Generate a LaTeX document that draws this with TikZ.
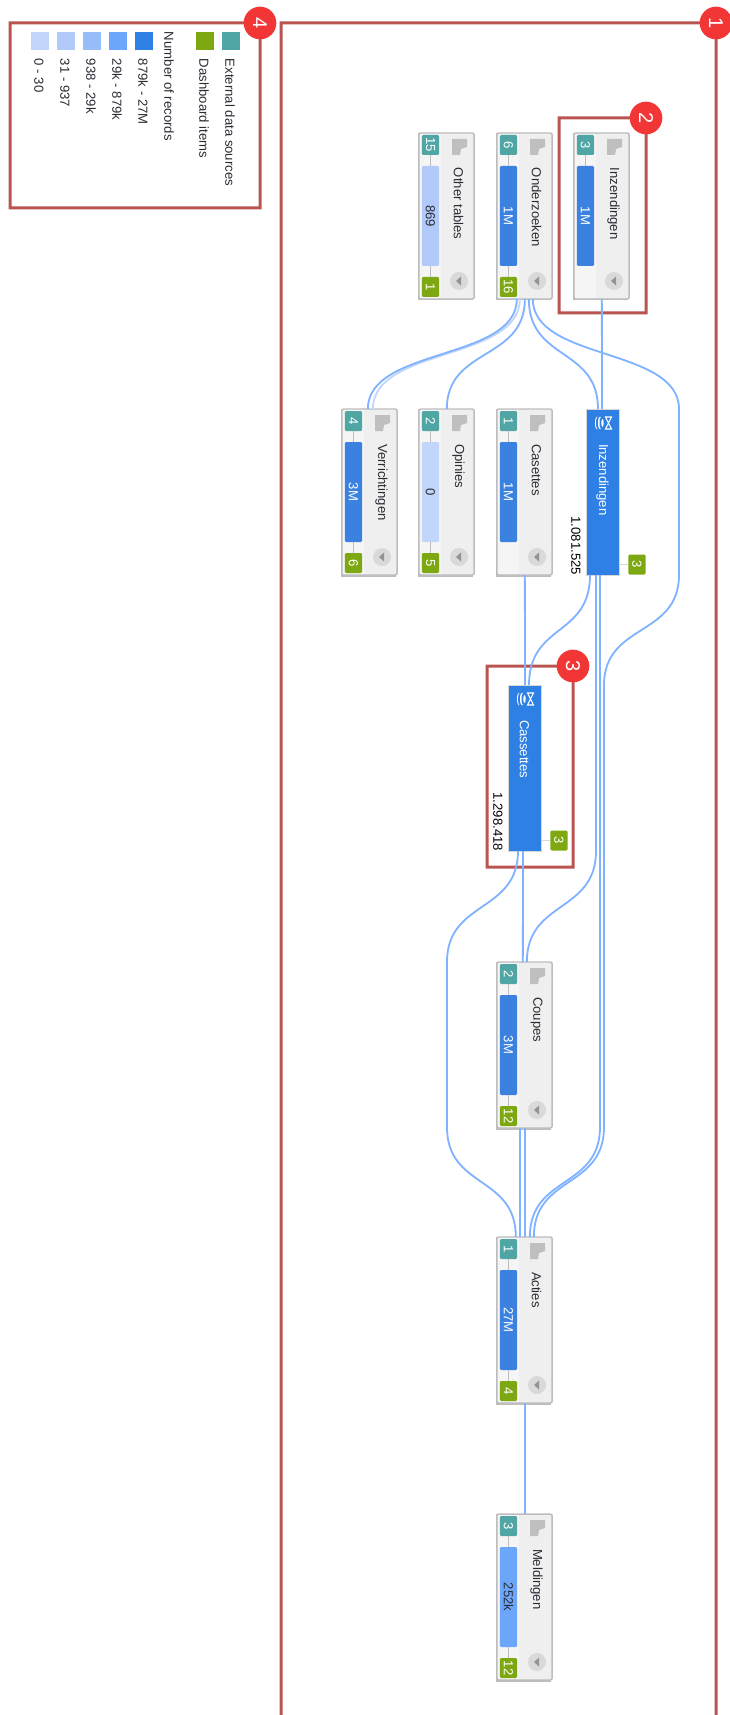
\documentclass[tikz,border=0pt]{standalone}
\usepackage{fontspec}
\setmainfont{Liberation Sans}
\usetikzlibrary{calc}
\definecolor{frame}{HTML}{B95450}
\definecolor{badge}{HTML}{F23535}
\definecolor{tealc}{HTML}{4FA6A4}
\definecolor{greenc}{HTML}{7EA812}
\definecolor{barD}{HTML}{3B82E0}
\definecolor{barT}{HTML}{2F80E5}
\definecolor{barC}{HTML}{6BA6FB}
\definecolor{barB}{HTML}{97BDFB}
\definecolor{barA}{HTML}{B1CAFA}
\definecolor{barZ}{HTML}{C2D5FB}
\definecolor{lnkc}{HTML}{7FB2FF}
\definecolor{cardf}{HTML}{EFEFEF}
\definecolor{cardl}{HTML}{F5F5F5}
\definecolor{cardb}{HTML}{BDBDBD}
\definecolor{txt}{HTML}{2B2B35}
\tikzset{
  lbl/.style={font=\fontsize{9.85}{11}\selectfont,rotate=-90,inner sep=0,outer sep=0,text=txt},
  framebox/.style={fill=frame,even odd rule},
  badgenode/.style={circle,fill=badge,minimum size=24.5pt,inner sep=0,text=white,font=\fontsize{15}{15}\selectfont,rotate=-90},
  lnk/.style={draw=lnkc,line width=1.35pt},
  lnklight/.style={draw=barZ,line width=1.35pt},
  cardbox/.style={draw=cardb,line width=1.1pt,fill=cardf,rounded corners=1.5pt,minimum width=41.5pt,minimum height=124.5pt,inner sep=0,outer sep=0},
  tblbox/.style={draw=cardb!60,line width=.6pt,fill=barT,minimum width=24.75pt,minimum height=124.5pt,inner sep=0,outer sep=0},
  chip/.style={minimum width=13pt,minimum height=15pt,inner sep=0,rounded corners=1pt,font=\fontsize{9.85}{11}\selectfont},
  bar/.style={minimum width=13pt,minimum height=75pt,inner sep=0,rounded corners=1pt,font=\fontsize{9.85}{11}\selectfont},
  swatch/.style={minimum size=13.5pt,inner sep=0},
  stem/.style={draw=cardb,line width=.7pt},
}
% \frameit{x0}{y0}{x1}{y1}: a 3px frame centred on the rectangle
\newcommand{\frameit}[4]{
  \path[framebox] (#1-1.5,#2-1.5) rectangle (#3+1.5,#4+1.5) (#1+1.5,#2+1.5) rectangle (#3-1.5,#4-1.5);
}
% \card{name}{x0}{y0}{title}{teal}{bar text}{bar colour}{bar text colour}{green}
\newcommand{\card}[9]{
  \fill[cardb] (#2-1.5,#3) rectangle (#2+54,#3+167.5);
  \node[cardbox] (#1) at (#2+27.5,#3+83) {};
  \fill[cardl] (#2+1,#3+1) rectangle (#2+22,#3+165);
  \node[chip,fill=tealc,text=white] (#1-t) at (#2+11.5,#3+12) {\rotatebox{-90}{#5}};
  \node[bar,fill=#7,text=#8] (#1-b) at (#2+11.5,#3+83) {\rotatebox{-90}{#6}};
  \draw[stem] (#1-t) -- (#1-b);
  \ifx&#9&\else
    \node[chip,fill=greenc,text=white] (#1-g) at (#2+11.5,#3+154) {\rotatebox{-90}{#9}};
    \draw[stem] (#1-b) -- (#1-g);
  \fi
  \fill[gray!50!white] (#2+33,#3+6) -- (#2+48,#3+6) -- (#2+48,#3+14) -- (#2+42,#3+16) -- (#2+41,#3+22) -- (#2+33,#3+22) -- cycle;
  \node[lbl,anchor=west] (#1-n) at (#2+39.5,#3+35) {#4};
  \fill[gray!30!white] (#2+40,#3+148) circle (9);
  \fill[gray!85!white] (#2+37,#3+148) -- (#2+42,#3+143.5) -- (#2+42,#3+152.5) -- cycle;
}
% \tbl{name}{x0}{y0}{title}{number}{green}
\newcommand{\tbl}[6]{
  \node[tblbox] (#1) at (#2+16.5,#3+83) {};
  \fill[white] (#2+11,#3+14) ellipse (2 and 6.5);
  \fill[barT] (#2+12,#3+14) ellipse (2 and 6.5);
  \fill[white] (#2+14,#3+14) ellipse (2 and 6.5);
  \fill[barT] (#2+15.2,#3+14) ellipse (1.7 and 6);
  \fill[white] (#2+16.5,#3+14) ellipse (1.2 and 4);
  \draw[white,line width=.8pt] (#2+19.5,#3+8) -- (#2+25.5,#3+8) -- (#2+19.5,#3+20) -- (#2+25.5,#3+20) -- cycle;
  \node[lbl,anchor=west,text=white] (#1-n) at (#2+16.5,#3+35) {#4};
  \node[lbl,anchor=east,text=black] (#1-c) at (#2-10,#3+166) {#5};
  \node[chip,fill=greenc,text=white] (#1-g) at (#2+51,#3+155.5) {\rotatebox{-90}{#6}};
  \draw[draw=cardb!60,line width=.8pt] (#1-g.west) -- (#1.east |- #1-g.west);
}
% \slink[style]{from}{dx}{to}{dx}: curve between two rows
\newcommand{\slink}[5][lnk]{
  \draw[#1] ($(#2.south west)+(#3,0)$) .. controls +(0,62) and +(0,-62) .. ($(#4.north west)+(#5,0)$);
}
\begin{document}
\begin{tikzpicture}[x=0.75pt,y=-0.75pt]
\useasboundingbox (0,0) rectangle (730,1715);
\fill[white] (0,0) rectangle (730,1715);

% frames
\begin{scope}
\clip (0,0) rectangle (730,1715);
\frameit{281}{23}{716}{1740}
\end{scope}
\frameit{10}{23}{260}{208}
\frameit{559}{118}{646}{313}
\frameit{487}{666}{573}{867}

% nodes
\card{oth}{419}{133}{Other tables}{15}{869}{barA}{txt}{1}
\card{onz}{497}{133}{Onderzoeken}{6}{1M}{barD}{white}{16}
\card{inz}{574}{133}{Inzendingen}{3}{1M}{barD}{white}{}
\card{ver}{342}{409}{Verrichtingen}{4}{3M}{barD}{white}{6}
\card{opi}{419}{409}{Opinies}{2}{0}{barZ}{txt}{5}
\card{cas}{497}{409}{Casettes}{1}{1M}{barD}{white}{}
\tbl{tin}{586}{409}{Inzendingen}{1.081.525}{3}
\tbl{tca}{508}{685}{Cassettes}{1.298.418}{3}
\card{cou}{497}{962}{Coupes}{2}{3M}{barD}{white}{12}
\card{act}{497}{1237}{Acties}{1}{27M}{barD}{white}{4}
\card{mel}{497}{1514}{Meldingen}{3}{252k}{barC}{txt}{12}

% waypoints
\coordinate (a1) at (679,409);
\coordinate (a2) at (679,575);
\coordinate (a3) at (604,685);
\coordinate (a4) at (604,1127);
\coordinate (b1) at (600,1127);
\coordinate (c1) at (596,851);
\coordinate (d1) at (447,962);
\coordinate (d2) at (447,1127);

% connectors
\draw[lnk] ($(inz.south west)+(28,0)$) -- ($(tin.north west)+(16,0)$);
\slink[lnklight]{onz}{23}{ver}{31}
\slink{onz}{20}{ver}{26}
\slink{onz}{28}{opi}{28}
\slink{onz}{32}{tin}{12}
\draw[lnk] ($(onz.south west)+(36,0)$) .. controls +(0,62) and +(0,-62) .. (a1) -- (a2)
  .. controls +(0,62) and +(0,-62) .. (a3) -- (a4)
  .. controls +(0,62) and +(0,-62) .. ($(act.north west)+(37,0)$);
\draw[lnk] ($(cas.south west)+(28,0)$) -- ($(tca.north west)+(17,0)$);
\slink{tin}{4}{tca}{21}
\draw[lnk] ($(tin.south west)+(10,0)$) -- (c1)
  .. controls +(0,62) and +(0,-62) .. ($(cou.north west)+(30,0)$);
\draw[lnk] ($(tin.south west)+(14,0)$) -- (b1)
  .. controls +(0,62) and +(0,-62) .. ($(act.north west)+(33,0)$);
\draw[lnk] ($(tca.south west)+(15,0)$) -- ($(cou.north west)+(26,0)$);
\draw[lnk] ($(tca.south west)+(10,0)$) .. controls +(0,62) and +(0,-62) .. (d1) -- (d2)
  .. controls +(0,62) and +(0,-62) .. ($(act.north west)+(19,0)$);
\draw[lnk] ($(cou.south west)+(23,0)$) -- ($(act.north west)+(23,0)$);
\draw[lnk] ($(cou.south west)+(28,0)$) -- ($(act.north west)+(28,0)$);
\draw[lnk] ($(act.south west)+(28,0)$) -- ($(mel.north west)+(28,0)$);

% legend
\node[swatch,fill=barZ] (s0) at (40,41) {};
\node[swatch,fill=barA] (s1) at (66,41) {};
\node[swatch,fill=barB] (s2) at (92,41) {};
\node[swatch,fill=barC] (s3) at (118,41) {};
\node[swatch,fill=barT] (s4) at (144,41) {};
\node[swatch,fill=greenc] (s5) at (205,41) {};
\node[swatch,fill=tealc] (s6) at (231,41) {};
\node[lbl,anchor=west] (l0) at (39,59) {0 - 30};
\node[lbl,anchor=west] (l1) at (65,59) {31 - 937};
\node[lbl,anchor=west] (l2) at (91,59) {938 - 29k};
\node[lbl,anchor=west] (l3) at (117,59) {29k - 879k};
\node[lbl,anchor=west] (l4) at (143,59) {879k - 27M};
\node[lbl,anchor=west] (lh) at (169,32) {Number of records};
\node[lbl,anchor=west] (l5) at (204,59) {Dashboard items};
\node[lbl,anchor=west] (l6) at (230,59) {External data sources};

% badges
\node[badgenode] (b-1) at (716,23) {1};
\node[badgenode] (b-2) at (646,118) {2};
\node[badgenode] (b-3) at (573,666) {3};
\node[badgenode] (b-4) at (260,23) {4};
\end{tikzpicture}
\end{document}
